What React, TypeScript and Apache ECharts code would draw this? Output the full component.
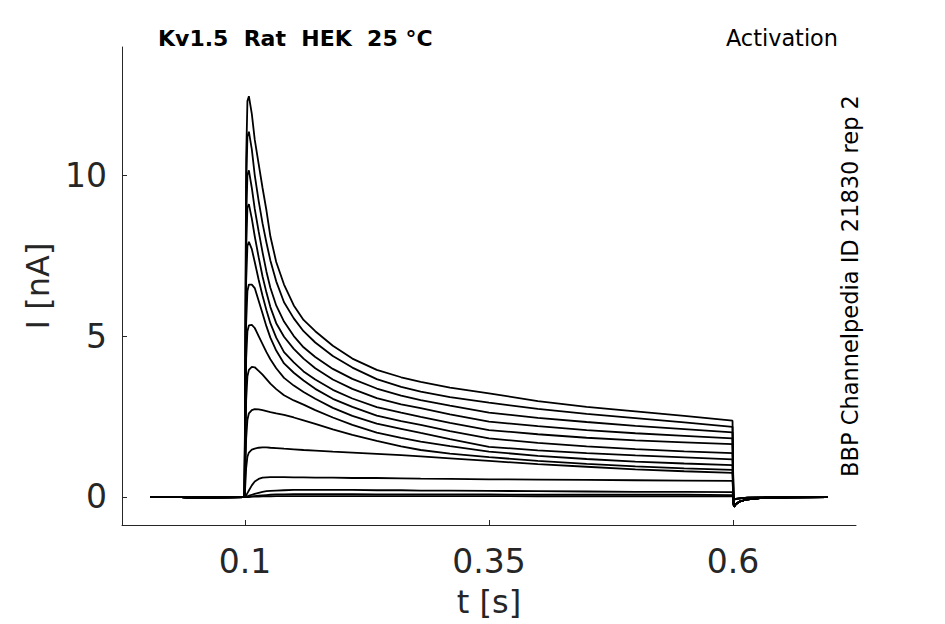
import React, { useEffect, useRef } from "react";
import * as echarts from "echarts";

// tick labels / axis values
const X_TICKS = [0.1, 0.35, 0.6];
const Y_TICKS = [0, 5, 10];

// baseline before the pulse
const T_PRE = [0.003, 0.035, 0.045, 0.0995];
const PRE = [0, 0, -0.02, 0];

// time points during the pulse (s)
const T_PULSE = [0.1002, 0.1012, 0.1025, 0.104, 0.107, 0.11, 0.114, 0.118, 0.122, 0.126, 0.132, 0.14, 0.15, 0.16, 0.172, 0.19, 0.21, 0.235, 0.26, 0.28, 0.31, 0.35, 0.4, 0.45, 0.5, 0.55, 0.5995];

// current traces (nA)
const TR_A = [3.5, 10.5, 12.3, 12.45, 11.9, 11.1, 10.35, 9.6, 8.9, 8.1, 7.3, 6.6, 5.95, 5.5, 5.15, 4.7, 4.3, 3.95, 3.72, 3.58, 3.4, 3.22, 2.98, 2.8, 2.66, 2.52, 2.37];
const TR_B = [3.2, 9.6, 11.2, 11.35, 10.8, 10.0, 9.2, 8.5, 7.9, 7.35, 6.7, 6.05, 5.55, 5.15, 4.8, 4.38, 4.02, 3.66, 3.42, 3.27, 3.1, 2.93, 2.74, 2.58, 2.45, 2.32, 2.18];
const TR_C = [2.9, 8.6, 10.0, 10.15, 9.6, 8.95, 8.25, 7.6, 7.0, 6.5, 5.95, 5.45, 5.0, 4.65, 4.35, 3.98, 3.67, 3.37, 3.15, 3.01, 2.84, 2.62, 2.46, 2.33, 2.21, 2.11, 2.01];
const TR_D = [2.6, 7.7, 9.0, 9.1, 8.65, 8.1, 7.45, 6.85, 6.35, 5.9, 5.4, 4.98, 4.6, 4.3, 4.0, 3.65, 3.36, 3.07, 2.88, 2.76, 2.57, 2.34, 2.2, 2.08, 1.98, 1.9, 1.82];
const TR_E = [2.2, 6.7, 7.8, 7.93, 7.7, 7.3, 6.75, 6.25, 5.8, 5.4, 4.95, 4.5, 4.18, 3.9, 3.65, 3.33, 3.06, 2.79, 2.62, 2.49, 2.3, 2.08, 1.95, 1.84, 1.76, 1.7, 1.64];
const TR_F = [1.8, 5.4, 6.4, 6.6, 6.6, 6.49, 6.1, 5.7, 5.3, 4.95, 4.55, 4.15, 3.86, 3.62, 3.36, 3.05, 2.8, 2.53, 2.36, 2.24, 2.05, 1.82, 1.68, 1.57, 1.49, 1.42, 1.36];
const TR_G = [1.4, 4.3, 5.15, 5.33, 5.35, 5.25, 5.0, 4.75, 4.5, 4.28, 4.0, 3.7, 3.46, 3.26, 3.05, 2.77, 2.52, 2.28, 2.12, 1.99, 1.8, 1.56, 1.45, 1.36, 1.29, 1.23, 1.17];
const TR_H = [1.0, 3.0, 3.75, 3.95, 4.04, 4.03, 3.92, 3.8, 3.66, 3.52, 3.35, 3.16, 3.0, 2.87, 2.7, 2.47, 2.24, 2.0, 1.84, 1.72, 1.58, 1.41, 1.28, 1.18, 1.1, 1.04, 0.99];
const TR_I = [0.6, 1.8, 2.4, 2.6, 2.7, 2.73, 2.72, 2.7, 2.67, 2.64, 2.6, 2.55, 2.47, 2.38, 2.27, 2.1, 1.93, 1.74, 1.57, 1.46, 1.35, 1.24, 1.12, 1.03, 0.95, 0.89, 0.84];
const TR_J = [0.3, 0.9, 1.25, 1.38, 1.47, 1.5, 1.53, 1.54, 1.54, 1.53, 1.52, 1.5, 1.48, 1.46, 1.44, 1.41, 1.38, 1.34, 1.3, 1.26, 1.2, 1.12, 1.02, 0.94, 0.86, 0.8, 0.75];
const TR_K = [0.01, 0.05, 0.12, 0.2, 0.36, 0.48, 0.56, 0.6, 0.61, 0.62, 0.62, 0.62, 0.61, 0.61, 0.6, 0.6, 0.59, 0.59, 0.58, 0.57, 0.56, 0.55, 0.54, 0.53, 0.52, 0.51, 0.5];
const TR_L = [0, 0.01, 0.02, 0.04, 0.07, 0.1, 0.13, 0.16, 0.18, 0.19, 0.2, 0.21, 0.22, 0.22, 0.22, 0.22, 0.22, 0.21, 0.21, 0.2, 0.2, 0.19, 0.18, 0.17, 0.16, 0.16, 0.15];
const TR_M = [0, 0, 0.01, 0.01, 0.02, 0.03, 0.04, 0.05, 0.06, 0.07, 0.08, 0.08, 0.09, 0.09, 0.09, 0.09, 0.09, 0.08, 0.08, 0.08, 0.08, 0.08, 0.07, 0.07, 0.07, 0.07, 0.06];
const TR_N = [0, 0, 0, 0, 0.01, 0.01, 0.01, 0.02, 0.02, 0.02, 0.03, 0.03, 0.03, 0.03, 0.03, 0.03, 0.03, 0.03, 0.03, 0.03, 0.03, 0.03, 0.02, 0.02, 0.02, 0.02, 0.02];

// after the pulse
const T_TAIL = [0.6005, 0.601, 0.603, 0.607, 0.615, 0.63, 0.66, 0.697];
const TAIL_LARGE = [-0.18, -0.3, -0.22, -0.14, -0.07, -0.03, -0.01, 0];
const TAIL_SMALL = [-0.05, -0.08, -0.06, -0.04, -0.02, -0.01, 0, 0];

const LARGE = [TR_A, TR_B, TR_C, TR_D, TR_E, TR_F, TR_G, TR_H, TR_I, TR_J];
const SMALL = [TR_K, TR_L, TR_M, TR_N];

const FONT = "DejaVu Sans";
const AXIS_COLOR = "#262626";

function buildTrace(vals: number[], tail: number[]): number[][] {
  const pts: number[][] = [];
  T_PRE.forEach((t, i) => pts.push([t, PRE[i]]));
  T_PULSE.forEach((t, i) => pts.push([t, vals[i]]));
  T_TAIL.forEach((t, i) => pts.push([t, tail[i]]));
  return pts;
}

export default function App() {
  const ref = useRef<HTMLDivElement>(null);
  useEffect(() => {
    if (!ref.current) return;
    const chart = echarts.init(ref.current, undefined, { renderer: "svg" });
    const series: any[] = [];
    [...SMALL.map((v) => buildTrace(v, TAIL_SMALL)), ...LARGE.map((v) => buildTrace(v, TAIL_LARGE))].forEach(
      (data, i) => {
        series.push({
          type: "line",
          name: "trace" + i,
          data,
          showSymbol: false,
          symbol: "none",
          silent: true,
          lineStyle: { color: "#000", width: 1.8 },
        });
      }
    );
    chart.setOption({
      animation: false,
      grid: { left: 122, top: 47, right: 89, bottom: 99, containLabel: false },
      xAxis: {
        type: "value",
        min: -0.026,
        max: 0.726,
        name: "t [s]",
        nameLocation: "middle",
        nameGap: 61,
        nameTextStyle: { fontFamily: FONT, fontSize: 32, color: AXIS_COLOR },
        axisLine: { show: true, onZero: false, lineStyle: { color: AXIS_COLOR, width: 1 } },
        axisTick: { show: true, inside: true, length: 5, customValues: X_TICKS, lineStyle: { color: AXIS_COLOR } },
        axisLabel: {
          customValues: X_TICKS,
          fontFamily: FONT,
          fontSize: 33,
          color: AXIS_COLOR,
          margin: 20,
          formatter: (v: number) => String(v),
        },
        splitLine: { show: false },
      },
      yAxis: {
        type: "value",
        min: -0.87,
        max: 13.98,
        name: "I [nA]",
        nameLocation: "middle",
        nameGap: 66,
        nameTextStyle: { fontFamily: FONT, fontSize: 32, color: AXIS_COLOR },
        axisLine: { show: true, onZero: false, lineStyle: { color: AXIS_COLOR, width: 1 } },
        axisTick: { show: true, inside: true, length: 5, customValues: Y_TICKS, lineStyle: { color: AXIS_COLOR } },
        axisLabel: {
          customValues: Y_TICKS,
          fontFamily: FONT,
          fontSize: 33,
          color: AXIS_COLOR,
          margin: 15,
          formatter: (v: number) => String(v),
        },
        splitLine: { show: false },
      },
      graphic: [
        {
          type: "text",
          left: 158,
          top: 27,
          style: { text: "Kv1.5  Rat  HEK  25 °C", fontFamily: FONT, fontSize: 22, fontWeight: "bold", fill: "#000" },
        },
        {
          type: "text",
          right: 107,
          top: 27,
          style: { text: "Activation", fontFamily: FONT, fontSize: 22.4, fill: "#000" },
        },
        {
          type: "text",
          x: 850,
          y: 286,
          rotation: Math.PI / 2,
          style: {
            text: "BBP Channelpedia ID 21830 rep 2",
            fontFamily: FONT,
            fontSize: 22.5,
            fill: "#000",
            align: "center",
            verticalAlign: "middle",
          },
        },
      ],
      series,
    });
    return () => chart.dispose();
  }, []);
  return <div ref={ref} style={{ position: "absolute", left: 0, top: 0, width: 945, height: 624 }} />;
}
